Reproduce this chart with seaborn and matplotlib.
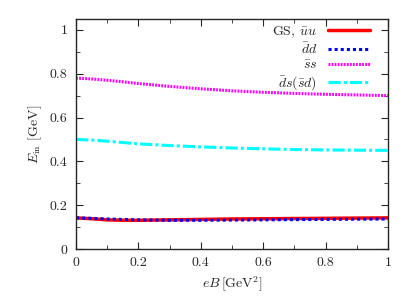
import numpy as np
import pandas as pd
import matplotlib
matplotlib.use("Agg")
import matplotlib.pyplot as plt
import seaborn as sns
from matplotlib.ticker import MultipleLocator

sns.set_style("ticks")
plt.rcParams['font.family'] = 'serif'
plt.rcParams['font.serif'] = ['cmr10', 'DejaVu Serif']
plt.rcParams['mathtext.fontset'] = 'cm'
plt.rcParams['axes.formatter.use_mathtext'] = True

eB = [0.0, 0.05, 0.1, 0.15, 0.2, 0.3, 0.4, 0.5, 0.6, 0.7, 0.8, 0.9, 1.0]
E_uu = [0.142, 0.138, 0.133, 0.131, 0.131, 0.133, 0.135, 0.137, 0.138, 0.139, 0.140, 0.141, 0.142]
E_dd = [0.142, 0.140, 0.137, 0.135, 0.133, 0.131, 0.131, 0.132, 0.133, 0.134, 0.135, 0.136, 0.137]
E_ss = [0.780, 0.776, 0.770, 0.763, 0.755, 0.742, 0.731, 0.722, 0.715, 0.710, 0.706, 0.703, 0.700]
E_ds = [0.500, 0.497, 0.492, 0.486, 0.480, 0.472, 0.466, 0.461, 0.457, 0.454, 0.452, 0.451, 0.450]

df = pd.DataFrame({'eB': eB, 'uu': E_uu, 'dd': E_dd, 'ss': E_ss, 'ds': E_ds})

fig, ax = plt.subplots(figsize=(4.18, 3.0), dpi=100)
sns.lineplot(data=df, x='eB', y='uu', ax=ax, color='red', lw=2.5, label=r'GS, $\bar{u}u$')
sns.lineplot(data=df, x='eB', y='dd', ax=ax, color='blue', lw=2.2, ls=(0, (1, 1)), label=r'$\bar{d}d$')
sns.lineplot(data=df, x='eB', y='ss', ax=ax, color='magenta', lw=2.2, ls=(0, (0.6, 0.4)), label=r'$\bar{s}s$')
sns.lineplot(data=df, x='eB', y='ds', ax=ax, color='cyan', lw=2.2, ls=(0, (4, 1, 1, 1)), label=r'$\bar{d}s(\bar{s}d)$')

ax.set_xlim(0, 1)
ax.set_ylim(0, 1.05)
ax.xaxis.set_major_locator(MultipleLocator(0.2))
ax.xaxis.set_minor_locator(MultipleLocator(0.1))
ax.yaxis.set_major_locator(MultipleLocator(0.2))
ax.yaxis.set_minor_locator(MultipleLocator(0.1))
ax.set_xticks([0, 0.2, 0.4, 0.6, 0.8, 1.0], ['0', '0.2', '0.4', '0.6', '0.8', '1'])
ax.set_yticks([0, 0.2, 0.4, 0.6, 0.8, 1.0], ['0', '0.2', '0.4', '0.6', '0.8', '1'])
ax.tick_params(which='both', direction='in', top=True, right=True, labelsize=10, pad=6)
ax.tick_params(which='major', length=5)
ax.tick_params(which='minor', length=3)
for s in ax.spines.values():
    s.set_linewidth(1.0)
ax.set_xlabel(r'$eB\,[\mathrm{GeV}^2]$', fontsize=10)
ax.set_ylabel(r'$E_{\mathrm{in}}$ [GeV]', fontsize=10)

ax.legend(loc='upper right', bbox_to_anchor=(0.96, 1.0), frameon=False, markerfirst=False,
          fontsize=10, handlelength=3.0, labelspacing=0.15, borderaxespad=0.0)

fig.subplots_adjust(left=0.182, right=0.928, top=0.937, bottom=0.17)
fig.savefig('out.png', dpi=100)
